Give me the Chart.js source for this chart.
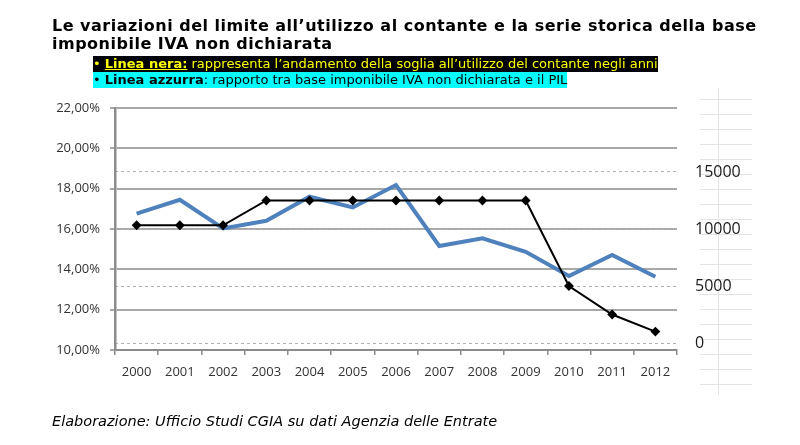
<!DOCTYPE html>
<html>
<head>
<meta charset="utf-8">
<script src="https://cdn.jsdelivr.net/npm/chart.js@4.4.1/dist/chart.umd.min.js"></script>
<style>
  body { margin: 0; background: #fff; }
  #wrap { position: relative; width: 800px; height: 445px; overflow: hidden; }
  canvas { position: absolute; left: 0; top: 0; }
  #title {
    position: absolute; left: 52px; top: 17px;
    font: bold 16px "DejaVu Sans", Verdana, sans-serif; letter-spacing: 0.5px; line-height: 18px; color: #000;
  }
  .leg {
    position: absolute; left: 93px;
    font: 13px "DejaVu Sans", Verdana, sans-serif; line-height: 16px; white-space: nowrap;
  }
  #leg1 { top: 56px; background: #000; color: #ffff00; }
  #leg2 { top: 72px; background: #00ffff; color: #000; }
  #note {
    position: absolute; left: 52px; top: 413px;
    font: italic 14.5px "DejaVu Sans", Verdana, sans-serif; color: #000;
  }
</style>
</head>
<body>
<div id="wrap">
  <canvas id="chart" width="800" height="445"></canvas>
  <div id="title">Le variazioni del limite all’utilizzo al contante e la serie storica della base<br>imponibile IVA non dichiarata</div>
  <div class="leg" id="leg1">• <b><u>Linea nera:</u></b> rappresenta l’andamento della soglia all’utilizzo del contante negli anni</div>
  <div class="leg" id="leg2">• <b>Linea azzurra</b>: rapporto tra base imponibile IVA non dichiarata e il PIL</div>
  <div id="note">Elaborazione: Ufficio Studi CGIA su dati Agenzia delle Entrate</div>
</div>
<script>
// dati
var years = ["2000", "2001", "2002", "2003", "2004", "2005", "2006", "2007", "2008", "2009", "2010", "2011", "2012"];
var ivaPil = [16.76, 17.45, 16.03, 16.41, 17.60, 17.07, 18.18, 15.16, 15.54, 14.87, 13.67, 14.71, 13.63];
var sogliaContante = [10329, 10329, 10329, 12500, 12500, 12500, 12500, 12500, 12500, 12500, 5000, 2500, 1000];
var rightTicks = [0, 5000, 10000, 15000];

// celle grigie a destra (come nel foglio excel)
var cellsPlugin = {
    id: 'cells',
    beforeDraw: function (chart) {
        var ctx = chart.ctx;
        ctx.save();
        ctx.strokeStyle = '#e4e4e4';
        ctx.lineWidth = 1;
        ctx.beginPath();
        ctx.moveTo(718.5, 88);
        ctx.lineTo(718.5, 395);
        for (var i = 0; i < 20; i++) {
            var y = 99.5 + i * 15;
            ctx.moveTo(700, y);
            ctx.lineTo(752, y);
        }
        ctx.stroke();
        ctx.restore();
    }
};

var ctx = document.getElementById("chart").getContext("2d");
var chart = new Chart(ctx, {
    type: "line",
    data: {
        labels: years,
        datasets: [{
            label: "Linea nera",
            data: sogliaContante,
            yAxisID: "y2",
            borderColor: "#000",
            backgroundColor: "#000",
            borderWidth: 2,
            tension: 0,
            pointStyle: "rectRot",
            pointRadius: 3.5,
            pointBackgroundColor: "#000",
            pointBorderColor: "#000",
            order: 0
        }, {
            label: "Linea azzurra",
            data: ivaPil,
            yAxisID: "y",
            borderColor: "#4f81bd",
            borderWidth: 4,
            tension: 0,
            pointRadius: 0,
            fill: false,
            order: 1
        }]
    },
    options: {
        responsive: false,
        animation: false,
        layout: { padding: { top: 108, left: 0, right: 0, bottom: 0 } },
        plugins: {
            legend: { display: false },
            tooltip: { enabled: false }
        },
        scales: {
            x: {
                offset: true,
                grid: {
                    offset: true,
                    drawOnChartArea: false,
                    tickLength: 5,
                    color: '#8c8c8c',
                    lineWidth: 1.5
                },
                border: { color: '#8c8c8c', width: 2 },
                ticks: {
                    color: '#333',
                    autoSkip: false,
                    maxRotation: 0,
                    padding: 9,
                    font: { family: "Open Sans", size: 13 }
                },
                afterFit: function (s) { s.height = 95; }
            },
            y: {
                position: 'left',
                min: 10,
                max: 22,
                grid: {
                    color: '#a8a8a8',
                    lineWidth: 2,
                    tickLength: 5
                },
                border: { color: '#8c8c8c', width: 2.5 },
                ticks: {
                    stepSize: 2,
                    color: '#333',
                    padding: 10,
                    font: { family: "Open Sans", size: 13 },
                    callback: function (v) { return v.toFixed(2).replace('.', ',') + '%'; }
                },
                afterFit: function (s) { s.width = 115; }
            },
            y2: {
                position: 'right',
                min: -614,
                max: 20614,
                afterBuildTicks: function (s) {
                    s.ticks = rightTicks.map(function (v) { return { value: v }; });
                },
                grid: {
                    color: '#b0b0b0',
                    lineWidth: 1,
                    drawTicks: false
                },
                border: { display: false, dash: [3, 3] },
                ticks: {
                    color: '#1a1a1a',
                    padding: 18,
                    font: { family: "Open Sans", size: 16 },
                    callback: function (v) { return String(v); }
                },
                afterFit: function (s) { s.width = 123; }
            }
        }
    },
    plugins: [cellsPlugin]
});
</script>
</body>
</html>
